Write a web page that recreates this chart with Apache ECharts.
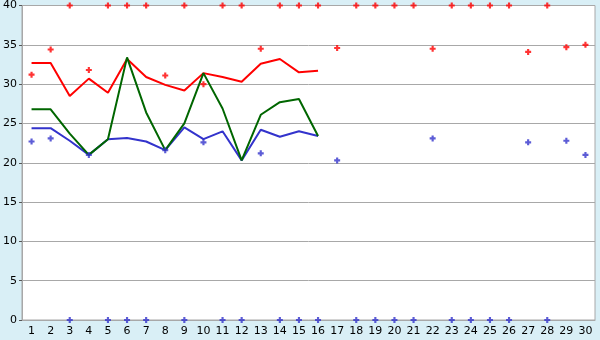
<!DOCTYPE html>
<html>
<head>
<meta charset="utf-8">
<script src="https://cdn.jsdelivr.net/npm/echarts@6/dist/echarts.min.js"></script>
<style>html,body{margin:0;padding:0;background:#d9eff6;}#c{width:600px;height:340px;}</style>
</head>
<body>
<div id="c"></div>
<script>
var days = ['1','2','3','4','5','6','7','8','9','10','11','12','13','14','15','16','17','18','19','20','21','22','23','24','25','26','27','28','29','30'];
var yTicks = [0, 5, 10, 15, 20, 25, 30, 35, 40];
var redPoints = [31.2, 34.4, 40, 31.8, 40, 40, 40, 31.1, 40, 30.0, 40, 40, 34.5, 40, 40, 40, 34.6, 40, 40, 40, 40, 34.5, 40, 40, 40, 40, 34.1, 40, 34.7, 35.0];
var bluePoints = [22.7, 23.1, 0, 21.0, 0, 0, 0, 21.6, 0, 22.6, 0, 0, 21.2, 0, 0, 0, 20.3, 0, 0, 0, 0, 23.1, 0, 0, 0, 0, 22.6, 0, 22.8, 21.0];
var redLine = [32.7, 32.7, 28.5, 30.7, 28.9, 33.2, 30.9, 29.9, 29.2, 31.4, 30.9, 30.3, 32.6, 33.2, 31.5, 31.7];
var blueLine = [24.4, 24.4, 22.8, 21.0, 23.0, 23.15, 22.7, 21.6, 24.5, 23.0, 24.0, 20.3, 24.2, 23.3, 24.0, 23.4];
var greenLine = [26.8, 26.8, 23.7, 21.0, 23.0, 33.4, 26.4, 21.6, 25.0, 31.4, 26.9, 20.3, 26.1, 27.7, 28.1, 23.4];

var plus = 'path://M1.6,0H3.4V1.6H5V3.4H3.4V5H1.6V3.4H0V1.6H1.6Z';
var chart = echarts.init(document.getElementById('c'));
var font = 'DejaVu Sans';
chart.setOption({
  backgroundColor: '#d9eff6',
  animation: false,
  grid: {left: 20, right: 5, top: 5, bottom: 20, show: true, backgroundColor: '#ffffff', borderColor: '#a8a8a8', borderWidth: 1},
  xAxis: {
    type: 'category', data: days, boundaryGap: true,
    axisLine: {lineStyle: {color: '#a8a8a8', width: 1}},
    axisTick: {alignWithLabel: true, length: 5, lineStyle: {color: '#000000'}},
    axisLabel: {color: '#000', fontFamily: font, fontSize: 11, margin: 6, interval: 0},
    splitLine: {show: false}
  },
  yAxis: {
    type: 'value', min: yTicks[0], max: yTicks[yTicks.length - 1], interval: 5,
    axisLine: {show: true, lineStyle: {color: '#a8a8a8'}},
    axisTick: {show: true, length: 3, lineStyle: {color: '#555'}},
    axisLabel: {color: '#000', fontFamily: font, fontSize: 11, margin: 5},
    splitLine: {show: true, lineStyle: {color: '#a8a8a8', width: 1}}
  },
  series: [
    {type: 'line', data: redLine, symbol: 'none', lineStyle: {color: '#ff0000', width: 2}, z: 2},
    {type: 'line', data: blueLine, symbol: 'none', lineStyle: {color: '#3333cc', width: 2}, z: 3},
    {type: 'line', data: greenLine, symbol: 'none', lineStyle: {color: '#006600', width: 2}, z: 4},
    {type: 'scatter', data: redPoints, symbol: plus, symbolSize: 6, itemStyle: {color: '#ff0000'}, clip: false, z: 5},
    {type: 'scatter', data: bluePoints, symbol: plus, symbolSize: 6, itemStyle: {color: '#3333cc'}, clip: false, z: 5}
  ]
});
</script>
</body>
</html>
